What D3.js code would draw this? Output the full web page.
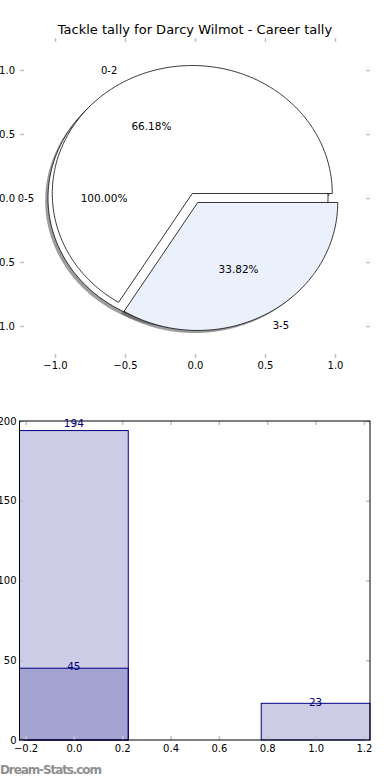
<!DOCTYPE html>
<html lang="en">
<head>
  <meta charset="utf-8" />
  <title>Tackle tally for Darcy Wilmot</title>
  <script src="https://cdnjs.cloudflare.com/ajax/libs/d3/7.8.5/d3.min.js"></script>
  <style>
    body { margin: 0; background: #fff; }
    svg { display: block; font-family: "DejaVu Sans", sans-serif; }
    .tick line { stroke: #c2c2c2; stroke-width: 1.5; }
    .tick text { fill: #000; font-size: 10px; }
  </style>
</head>
<body>
<svg id="chart" width="390" height="780"></svg>
<script>
  // pie data
  const pieTitle = "Tackle tally for Darcy Wilmot - Career tally";
  const outerLabels = ["0-5"];
  const outerValues = [68];
  const innerLabels = ["0-2", "3-5"];
  const innerValues = [45, 23];
  const pieTicks = [-1.0, -0.5, 0.0, 0.5, 1.0];

  // bar data
  const barX = [0, 1];
  const barTotals = [194, 23];
  const barSubX = [0];
  const barSub = [45];
  const barXTicks = [-0.2, 0.0, 0.2, 0.4, 0.6, 0.8, 1.0, 1.2];
  const barYTicks = [0, 50, 100, 150, 200];

  const svg = d3.select("#chart");

  // ---------- pie ----------
  const px = d3.scaleLinear().domain([-1.25, 1.25]).range([20, 370]);
  const py = d3.scaleLinear().domain([-1.25, 1.25]).range([358, 38]);
  const line = d3.line().x(d => px(d[0])).y(d => py(d[1]));

  function wedgePath(cx, cy, r, t1, t2) {
    const full = Math.abs(t2 - t1 - 2 * Math.PI) < 1e-9;
    const n = Math.max(4, Math.ceil((t2 - t1) * 90));
    const pts = [];
    if (!full) pts.push([cx, cy]);
    for (let i = 0; i <= n; i++) {
      const a = t1 + (t2 - t1) * i / n;
      pts.push([cx + r * Math.cos(a), cy + r * Math.sin(a)]);
    }
    return line(pts) + "Z";
  }

  const pie = d3.pie().sort(null).value(d => d);

  function layout(labels, values, explode, colors) {
    const total = d3.sum(values);
    return pie(values).map((p, i) => {
      const mid = (p.startAngle + p.endAngle) / 2;
      const cx = explode[i] * Math.cos(mid);
      const cy = explode[i] * Math.sin(mid);
      return {
        label: labels[i], value: values[i], pct: values[i] / total * 100,
        t1: p.startAngle, t2: p.endAngle, mid: mid, cx: cx, cy: cy, color: colors[i]
      };
    });
  }

  const outer = layout(outerLabels, outerValues, [0.05], ["#ffffff"]);
  const inner = layout(innerLabels, innerValues, [0.04, 0.04], ["#ffffff", "#eaf0fc"]);
  const wedges = outer.concat(inner);

  const gp = svg.append("g");

  // shadows below all wedges
  gp.selectAll("path.shadow")
    .data(wedges)
    .enter()
    .append("path")
    .attr("class", "shadow")
    .attr("d", d => wedgePath(d.cx - 0.02, d.cy - 0.02, 1, d.t1, d.t2))
    .attr("fill", "#4d4d4d")
    .attr("fill-opacity", 0.55)
    .attr("stroke", "none");

  gp.selectAll("path.wedge")
    .data(wedges)
    .enter()
    .append("path")
    .attr("class", "wedge")
    .attr("d", d => wedgePath(d.cx, d.cy, 1, d.t1, d.t2))
    .attr("fill", d => d.color)
    .attr("stroke", "#000")
    .attr("stroke-width", 0.8)
    .attr("stroke-linejoin", "miter");

  // labels
  gp.selectAll("text.lbl")
    .data(wedges)
    .enter()
    .append("text")
    .attr("class", "lbl")
    .attr("x", d => px(d.cx + 1.1 * Math.cos(d.mid)))
    .attr("y", d => py(d.cy + 1.1 * Math.sin(d.mid)))
    .attr("dy", "0.35em")
    .attr("text-anchor", d => (d.cx + 1.1 * Math.cos(d.mid)) > 0 ? "start" : "end")
    .style("font-size", "10px")
    .text(d => d.label);

  gp.selectAll("text.pct")
    .data(wedges)
    .enter()
    .append("text")
    .attr("class", "pct")
    .attr("x", d => px(d.cx + 0.6 * Math.cos(d.mid)))
    .attr("y", d => py(d.cy + 0.6 * Math.sin(d.mid)))
    .attr("dy", "0.35em")
    .attr("text-anchor", "middle")
    .style("font-size", "10.5px")
    .text(d => d.pct.toFixed(2) + "%");

  const fmt1 = d3.format(".1f");

  gp.append("g").attr("transform", "translate(0,358)")
    .call(d3.axisBottom(px).tickValues(pieTicks).tickSizeInner(-4).tickSizeOuter(0).tickPadding(4).tickFormat(fmt1))
    .call(g => g.select(".domain").remove());
  gp.append("g").attr("transform", "translate(0,38)")
    .call(d3.axisTop(px).tickValues(pieTicks).tickSizeInner(-4).tickSizeOuter(0).tickFormat(""))
    .call(g => g.select(".domain").remove());
  gp.append("g").attr("transform", "translate(20,0)")
    .call(d3.axisLeft(py).tickValues(pieTicks).tickSizeInner(-4).tickSizeOuter(0).tickPadding(5).tickFormat(fmt1))
    .call(g => g.select(".domain").remove());
  gp.append("g").attr("transform", "translate(370,0)")
    .call(d3.axisRight(py).tickValues(pieTicks).tickSizeInner(-4).tickSizeOuter(0).tickFormat(""))
    .call(g => g.select(".domain").remove());
  gp.selectAll(".tick text").style("font-family", "DejaVu Sans, sans-serif");

  svg.append("text")
    .attr("x", 195)
    .attr("y", 34)
    .attr("text-anchor", "middle")
    .style("font-size", "13px")
    .text(pieTitle);

  // ---------- bars ----------
  const bx = d3.scaleLinear().domain([-0.225, 1.225]).range([19.5, 370]);
  const by = d3.scaleLinear().domain([0, 200]).range([740, 421]);
  const barW = 0.45;
  const gb = svg.append("g");

  function drawBars(xs, hs, cls) {
    gb.selectAll("rect." + cls)
      .data(xs.map((x, i) => ({ x: x, h: hs[i] })))
      .enter()
      .append("rect")
      .attr("class", cls)
      .attr("x", d => bx(d.x - barW / 2))
      .attr("y", d => by(d.h))
      .attr("width", d => bx(d.x + barW / 2) - bx(d.x - barW / 2))
      .attr("height", d => by(0) - by(d.h))
      .attr("fill", "navy")
      .attr("fill-opacity", 0.2)
      .attr("stroke", "navy")
      .attr("stroke-width", 1);
  }
  drawBars(barX, barTotals, "total");
  drawBars(barSubX, barSub, "sub");

  gb.append("g").attr("transform", "translate(0,740)")
    .call(d3.axisBottom(bx).tickValues(barXTicks).tickSizeInner(-4).tickSizeOuter(0).tickPadding(5).tickFormat(fmt1))
    .call(g => g.select(".domain").remove());
  gb.append("g").attr("transform", "translate(0,421)")
    .call(d3.axisTop(bx).tickValues(barXTicks).tickSizeInner(-4).tickSizeOuter(0).tickFormat(""))
    .call(g => g.select(".domain").remove());
  gb.append("g").attr("transform", "translate(19.5,0)")
    .call(d3.axisLeft(by).tickValues(barYTicks).tickSizeInner(-4).tickSizeOuter(0).tickPadding(3))
    .call(g => g.select(".domain").remove());
  gb.append("g").attr("transform", "translate(370,0)")
    .call(d3.axisRight(by).tickValues(barYTicks).tickSizeInner(-4).tickSizeOuter(0).tickFormat(""))
    .call(g => g.select(".domain").remove());
  gb.selectAll(".tick text").style("font-family", "DejaVu Sans, sans-serif");

  gb.append("rect")
    .attr("x", 19.5).attr("y", 421)
    .attr("width", 370 - 19.5).attr("height", 740 - 421)
    .attr("fill", "none").attr("stroke", "#000").attr("stroke-width", 1);

  const barLabels = barX.map((x, i) => ({ x: x, h: barTotals[i] }))
    .concat(barSubX.map((x, i) => ({ x: x, h: barSub[i] })));
  gb.selectAll("text.val")
    .data(barLabels)
    .enter()
    .append("text")
    .attr("class", "val")
    .attr("x", d => bx(d.x))
    .attr("y", d => by(d.h * 1.025))
    .attr("dy", "0.35em")
    .attr("text-anchor", "middle")
    .attr("fill", "navy")
    .style("font-size", "10.5px")
    .text(d => d.h);

  svg.append("text")
    .attr("x", 0)
    .attr("y", 774)
    .attr("fill", "#8f8f8f")
    .style("font-size", "12px")
    .style("font-weight", "600")
    .attr("textLength", 102)
    .text("Dream-Stats.com");
</script>
</body>
</html>
